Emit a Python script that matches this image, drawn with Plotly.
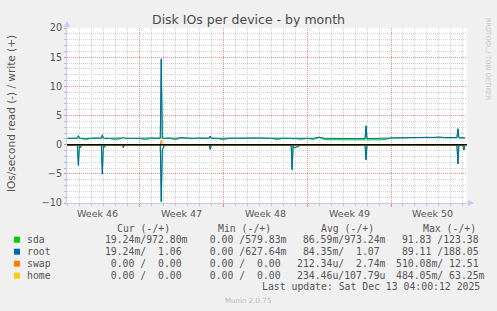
import plotly.graph_objects as go
import pandas as pd

# ---------------- data ----------------
start_time = "2025-11-10 00:00"
# sample times, hours after start_time
hours = [0, 12, 20, 22, 24, 26, 28, 36, 48, 60,
         68, 70, 72, 74, 76, 84, 96, 108, 110, 112,
         114, 120, 132, 144, 156, 168, 180, 186, 188, 190,
         192, 194, 204, 216, 228, 240, 252, 264, 276, 284,
         286, 288, 300, 312, 324, 336, 348, 360, 372, 384,
         396, 408, 420, 432, 444, 448, 450, 452, 454, 456,
         468, 480, 492, 504, 516, 528, 540, 552, 564, 576,
         588, 596, 598, 600, 612, 624, 636, 648, 660, 672,
         684, 696, 708, 720, 732, 744, 756, 768, 780, 782,
         784, 792, 794, 796]

root_write = [1.10, 1.15, 1.12, 1.55, 1.12, 1.10, 1.12, 1.08, 1.12, 1.18,
              1.12, 1.70, 1.12, 1.10, 1.12, 1.10, 1.14, 1.12, 1.12, 1.30,
              1.12, 1.10, 1.15, 1.10, 1.12, 1.15, 1.10, 1.12, 14.75, 1.15,
              1.12, 1.10, 1.15, 1.10, 1.20, 1.12, 1.10, 1.15, 1.10, 1.12,
              1.50, 1.12, 1.10, 1.12, 1.15, 1.10, 1.20, 1.15, 1.20, 1.15,
              1.10, 1.15, 1.10, 1.12, 1.10, 1.10, 1.15, 1.10, 1.10, 1.10,
              1.10, 1.12, 1.10, 1.28, 1.08, 1.08, 1.05, 1.08, 1.05, 1.08,
              1.05, 1.08, 3.26, 1.05, 1.08, 1.05, 1.08, 1.20, 1.22, 1.20,
              1.22, 1.20, 1.22, 1.25, 1.22, 1.30, 1.22, 1.20, 1.22, 2.74,
              1.20, 1.18, 1.15, 1.18]
sda_write = [1.06, 1.10, 1.08, 1.50, 1.08, 1.06, 1.08, 0.85, 1.08, 1.14,
             1.08, 1.65, 1.08, 1.06, 1.08, 1.06, 0.85, 1.08, 1.08, 1.25,
             1.08, 1.06, 1.10, 1.06, 0.85, 1.10, 1.06, 1.08, 14.50, 1.10,
             1.08, 1.06, 1.10, 0.85, 1.15, 1.08, 1.06, 1.10, 1.06, 1.08,
             1.45, 1.08, 1.06, 0.85, 1.10, 1.06, 1.15, 1.10, 1.15, 1.10,
             1.06, 1.10, 0.85, 1.08, 1.06, 1.06, 1.10, 0.95, 1.06, 1.06,
             0.90, 1.08, 0.88, 1.24, 0.85, 0.82, 0.82, 0.83, 0.82, 0.83,
             0.82, 0.83, 3.15, 0.82, 0.83, 0.82, 0.85, 1.17, 1.19, 1.17,
             1.19, 1.17, 1.19, 1.22, 1.19, 1.27, 1.19, 1.17, 1.19, 2.65,
             1.17, 1.15, 1.12, 1.15]
root_read = [-0.05, -0.04, -0.05, -3.55, -0.10, -0.55, -0.10, -0.04, -0.05, -0.05,
             -0.05, -5.00, -0.12, -0.45, -0.10, -0.04, -0.05, -0.05, -0.05, -0.50,
             -0.05, -0.04, -0.05, -0.05, -0.05, -0.05, -0.05, -0.05, -9.70, -0.90,
             -0.55, -0.10, -0.05, -0.05, -0.05, -0.05, -0.05, -0.05, -0.05, -0.05,
             -0.80, -0.05, -0.05, -0.04, -0.05, -0.05, -0.05, -0.05, -0.05, -0.05,
             -0.05, -0.05, -0.05, -0.05, -0.05, -0.05, -4.20, -0.15, -0.55, -0.50,
             -0.05, -0.05, -0.05, -0.05, -0.05, -0.05, -0.05, -0.05, -0.05, -0.05,
             -0.05, -0.05, -2.60, -0.05, -0.05, -0.05, -0.05, -0.05, -0.05, -0.05,
             -0.05, -0.05, -0.05, -0.05, -0.05, -0.05, -0.05, -0.05, -0.05, -3.30,
             -0.10, -0.10, -0.90, -0.20]
sda_read = [-0.05, -0.04, -0.05, -3.55, -0.10, -0.55, -0.10, -0.04, -0.05, -0.05,
            -0.05, -5.00, -0.12, -0.45, -0.10, -0.04, -0.05, -0.05, -0.05, -0.50,
            -0.05, -0.04, -0.05, -0.05, -0.05, -0.05, -0.05, -0.05, -9.85, -0.90,
            -0.55, -0.10, -0.05, -0.05, -0.05, -0.05, -0.05, -0.05, -0.05, -0.05,
            -0.80, -0.05, -0.05, -0.04, -0.05, -0.05, -0.05, -0.05, -0.05, -0.05,
            -0.05, -0.05, -0.05, -0.05, -0.05, -0.05, -4.40, -0.15, -0.55, -0.50,
            -0.05, -0.05, -0.05, -0.05, -0.05, -0.05, -0.05, -0.05, -0.05, -0.05,
            -0.05, -0.05, -2.60, -0.05, -0.05, -0.05, -0.05, -0.05, -0.05, -0.05,
            -0.05, -0.05, -0.05, -0.05, -0.05, -0.05, -0.05, -0.05, -0.05, -3.30,
            -0.10, -0.10, -0.90, -0.20]

swap_hours = [0, 186, 188, 190, 796]
swap_write = [0.0, 0.0, 0.75, 0.0, 0.0]
swap_read = [0.0, 0.0, -0.20, 0.0, 0.0]
home_hours = [0, 796]
home_write = [0.0, 0.0]
home_read = [0.0, 0.0]

week_starts = ["2025-11-09", "2025-11-16", "2025-11-23", "2025-11-30", "2025-12-07"]
week_labels = ["Week 46", "Week 47", "Week 48", "Week 49", "Week 50"]

names = ["sda", "root", "swap", "home"]
colors = ["#00CC00", "#0066B3", "#FF8000", "#FFCC00"]
headers = ["Cur (-/+)", "Min (-/+)", "Avg (-/+)", "Max (-/+)"]
cur_col = [" 19.24m/972.80m", " 19.24m/  1.06 ", "  0.00 /  0.00 ", "  0.00 /  0.00 "]
min_col = ["  0.00 /579.83m", "  0.00 /627.64m", "  0.00 /  0.00 ", "  0.00 /  0.00 "]
avg_col = [" 86.59m/973.24m", " 84.35m/  1.07 ", "212.34u/  2.74m", "234.46u/107.79u"]
max_col = [" 91.83 /123.38 ", " 89.11 /188.05 ", "510.08m/ 12.51 ", "484.05m/ 63.25m"]
last_update = "Last update: Sat Dec 13 04:00:12 2025"

# ---------------- layout helpers ----------------
W, H = 497, 311
PL, PR, PT, PB = 67, 467, 28, 203
X_RANGE = ["2025-11-09 23:14", "2025-12-13 08:10"]


def px(x):
    return (x - PL) / (PR - PL)


def py(y):
    return (PB - y) / (PB - PT)


t0 = pd.Timestamp(start_time)
times = [t0 + pd.Timedelta(hours=h) for h in hours]
swap_times = [t0 + pd.Timedelta(hours=h) for h in swap_hours]
home_times = [t0 + pd.Timedelta(hours=h) for h in home_hours]

fig = go.Figure()
series = [
    (times, sda_read, sda_write, colors[0]),
    (times, root_read, root_write, colors[1]),
    (swap_times, swap_read, swap_write, colors[2]),
    (home_times, home_read, home_write, colors[3]),
]
for tt, rd, wr, c in series:
    fig.add_trace(go.Scatter(x=tt, y=rd, mode="lines", line=dict(color=c, width=1),
                             hoverinfo="skip", showlegend=False))
    fig.add_trace(go.Scatter(x=tt, y=wr, mode="lines", line=dict(color=c, width=1),
                             hoverinfo="skip", showlegend=False))

GRID = "#d2d2d2"
MGRID = "rgba(235,110,110,0.75)"
AXIS = "#c6c8f6"
TXT = "#555555"
MONO = "DejaVu Sans Mono"
SANS = "DejaVu Sans"

fig.update_layout(
    width=W, height=H,
    margin=dict(l=PL, r=W - PR, t=PT, b=H - PB),
    paper_bgcolor="#F0F0F0", plot_bgcolor="#FFFFFF",
    font=dict(family=SANS, color=TXT),
    showlegend=False,
    xaxis=dict(
        type="date", range=X_RANGE, tick0="2025-11-16", dtick=7 * 86400000,
        showticklabels=False, showgrid=True, gridcolor=MGRID, griddash="1px,1px",
        gridwidth=1, ticks="outside", ticklen=3, tickcolor="#e08a8a",
        showline=True, linecolor=AXIS, linewidth=1, zeroline=False,
        minor=dict(tick0="2025-11-16", dtick=86400000, showgrid=True, gridcolor=GRID,
                   griddash="1px,1px", ticks="outside", ticklen=2, tickcolor="#bbbbbb"),
        fixedrange=True,
    ),
    yaxis=dict(
        range=[-10, 20], tick0=0, dtick=5, showgrid=True, gridcolor=MGRID,
        griddash="1px,1px", ticks="outside", ticklen=2, tickcolor="#e08a8a",
        showline=True, linecolor=AXIS, linewidth=1, zeroline=False,
        tickfont=dict(family=SANS, size=9.7, color=TXT),
        minor=dict(dtick=1, showgrid=True, gridcolor=GRID, griddash="1px,1px",
                   ticks="outside", ticklen=2, tickcolor="#bbbbbb"),
        fixedrange=True,
    ),
)

shapes = []
# zero line
shapes.append(dict(type="line", xref="paper", yref="y", x0=0, x1=1, y0=0, y1=0,
                   line=dict(color="#000000", width=1.5), layer="above"))
# axis arrows
shapes.append(dict(type="line", xref="paper", yref="paper", x0=px(PL), x1=px(PL),
                   y0=py(PT), y1=py(22), line=dict(color=AXIS, width=1)))
shapes.append(dict(type="path", xref="paper", yref="paper",
                   path=f"M {px(64)},{py(27)} L {px(67)},{py(21)} L {px(70)},{py(27)} Z",
                   fillcolor=AXIS, line=dict(width=0)))
shapes.append(dict(type="line", xref="paper", yref="paper", x0=px(PR), x1=px(470),
                   y0=py(PB), y1=py(PB), line=dict(color=AXIS, width=1)))
shapes.append(dict(type="path", xref="paper", yref="paper",
                   path=f"M {px(468)},{py(200)} L {px(474)},{py(203)} L {px(468)},{py(206)} Z",
                   fillcolor=AXIS, line=dict(width=0)))

ann = []


def text(x, y, s, size, color=TXT, family=SANS, xanchor="center", angle=0, xref="paper"):
    ann.append(dict(x=x, y=y, xref=xref, yref="paper", text=s, showarrow=False,
                    xanchor=xanchor, yanchor="middle", textangle=angle,
                    borderpad=0, borderwidth=0,
                    font=dict(family=family, size=size, color=color)))


# title and side texts
text(px(248.3), py(19), "Disk IOs per device - by month", 12.5, color="#4a4a4a")
text(px(11), py(114), "IOs/second read (-) / write (+)", 10.5, angle=-90)
text(px(488), py(59), "RRDTOOL / TOBI OETIKER", 6.4, color="#c4c4c4", angle=90)

# week labels
for ws, lab in zip(week_starts, week_labels):
    xm = pd.Timestamp(ws) + pd.Timedelta(hours=84)
    text(xm, py(213), lab, 9.5, xref="x")

# legend
NB = "\u00a0"
header_x = [116.7, 218.3, 320.7, 422.7]
for hx, hd in zip(header_x, headers):
    text(px(hx), py(228.5), hd.replace(" ", NB), 9.8, family=MONO, xanchor="left")

cols = [cur_col, min_col, avg_col, max_col]
for i, (nm, c) in enumerate(zip(names, colors)):
    ry = 239.7 + 12 * i
    shapes.append(dict(type="rect", xref="paper", yref="paper",
                       x0=px(14), x1=px(20), y0=py(ry + 3), y1=py(ry - 3),
                       fillcolor=c, line=dict(width=0)))
    text(px(26.7), py(ry), nm, 9.8, family=MONO, xanchor="left")
    for k, col in enumerate(cols):
        text(px(98.7 + 99 * k), py(ry), col[i].replace(" ", NB), 9.8, family=MONO, xanchor="left")

text(px(262.3), py(286.8), last_update.replace(" ", NB), 9.8, family=MONO, xanchor="left")
text(px(247.7), py(300), "Munin 2.0.75", 7.1, color="#bdbdbd")

fig.update_layout(shapes=shapes, annotations=ann)

fig.write_html("out.html", config={"displayModeBar": False})
